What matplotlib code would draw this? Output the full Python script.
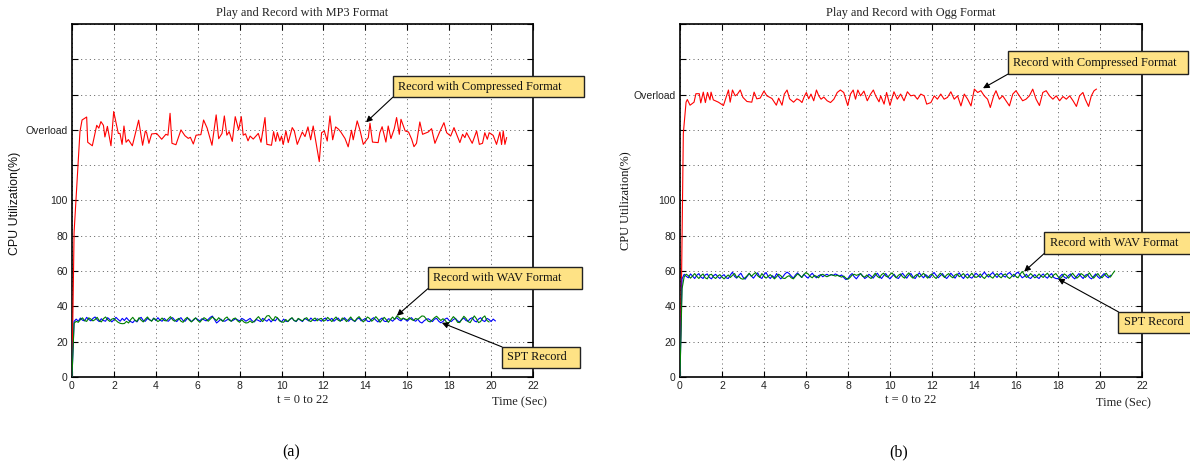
import matplotlib
matplotlib.use('Agg')
import matplotlib.pyplot as plt
import numpy as np
from matplotlib.patches import Rectangle

SERIF = 'Liberation Serif'
SANS = 'Liberation Sans'

# ---------------- data ----------------
dt = 0.1
x_ticks = list(range(0, 23, 2))
y_ticks = list(range(0, 201, 20))
ylabels_mp3 = ['0', '20', '40', '60', '80', '100', '', 'Overload', '', '', '']
ylabels_ogg = ['0', '20', '40', '60', '80', '100', '', '', 'Overload', '', '']

# (a) MP3 - record with compressed format (red)
red_mp3_t = [0, 0.1, 0.38, 0.48, 0.7, 0.75, 0.97, 1.18, 1.28, 1.38, 1.5, 1.57, 1.69, 1.86, 1.99,
             2.21, 2.29, 2.39, 2.48, 2.58, 2.69, 2.88, 3.18, 3.37, 3.5, 3.56, 3.67, 3.8, 4.04,
             4.28, 4.48, 4.58, 4.68, 4.77, 4.96, 5.2, 5.39, 5.55, 5.65, 5.79, 5.92, 6.15, 6.28,
             6.45, 6.68, 6.88, 7.0, 7.16, 7.27, 7.39, 7.5, 7.65, 7.79, 7.95, 8.08, 8.17, 8.28,
             8.4, 8.5, 8.65, 8.89, 9.02, 9.21, 9.3, 9.52, 9.62, 9.72, 9.8,
             9.92, 10.0, 10.08, 10.21, 10.32, 10.51, 10.61, 10.75, 10.99, 11.12, 11.26, 11.39,
             11.51, 11.67, 11.8, 11.91, 12.04, 12.18, 12.31, 12.44, 12.58, 12.72, 12.83, 13.03,
             13.18, 13.34, 13.42, 13.61, 13.74, 13.9, 14.14, 14.22, 14.34, 14.61, 14.69, 14.8,
             14.98, 15.09, 15.22, 15.38, 15.49, 15.62, 15.7, 15.9, 16.06, 16.21, 16.32, 16.44,
             16.6, 16.73, 17.0, 17.16, 17.32, 17.53, 17.75, 17.88, 18.07, 18.23, 18.51, 18.64,
             18.75, 18.83, 19.1, 19.31, 19.44, 19.59, 19.7, 19.82, 19.91, 20.1, 20.26, 20.42,
             20.5, 20.58, 20.66, 20.74]
red_mp3_v = [0, 82, 139, 145.6, 147.3, 133, 131, 142.6, 141, 144.7, 142.6, 136, 142, 131, 150.4,
             138, 138, 131.8, 142.2, 133, 134.5, 131, 145.5, 131.3, 139.4, 138.5, 132.4, 137.7, 138,
             134.7, 137.5, 137, 149.4, 132.4, 131.6, 140, 136.7, 135.2, 135.8, 132, 137, 137.3, 145.6,
             141, 131.3, 148.5, 135, 138, 147.9, 137, 139, 133.5, 147.5, 140, 147.5, 137, 137.8,
             133.8, 136.5, 134.8, 138, 133, 147, 131.8, 131.3, 139, 133.5, 138.5,
             133.7, 136.5, 131.7, 139.4, 132.8, 141.3, 139.4, 131.8, 138.8, 136.2, 141.7, 134.4,
             142.2, 130.9, 122.0, 138.4, 139.4, 133.7, 147.9, 134.4, 141.7, 140.4, 138.8, 135.1,
             130.4, 139.8, 134.4, 145.1, 140.0, 131.8, 135.6, 143.8, 133.1, 132.8, 138.4, 141.8,
             133.1, 142.2, 135.1, 140.7, 147.0, 137.5, 146.0, 139.4, 138.8, 134.7, 130.5, 132.4,
             144.5, 137.5, 138.8, 140.7, 132.4, 138.4, 144.1, 138.4, 136.5, 141.3, 132.8, 137.5,
             135.6, 138.4, 132.4, 139.4, 131.8, 132.4, 138.4, 134.7, 138.4, 136.9, 131.8, 138.8,
             131.7, 139.4, 131.8, 135.6]

# (a) MP3 - SPT record (blue), sampled every dt
blue_mp3 = [0, 31.5, 32.8, 31.6, 33.4, 32.2, 31.8, 33.8, 32.6, 31.8,
            33.2, 34.0, 32.4, 31.4, 33.0, 32.0, 31.6, 33.6, 32.6, 31.2,
            32.4, 33.8, 32.6, 31.6, 33.2, 32.0, 33.6, 32.2, 31.4, 30.8,
            32.2, 31.2, 33.0, 33.8, 32.0, 31.6, 33.2, 32.4, 31.8, 33.4,
            32.0, 33.6, 32.2, 31.6, 33.2, 32.0, 31.6, 33.0, 33.6, 32.2,
            31.4, 32.8, 33.6, 32.0, 31.6, 33.2, 32.8, 31.4, 32.2, 33.4,
            32.6, 31.8, 33.0, 32.4, 31.8, 32.6, 33.8, 34.5, 32.6, 30.6,
            31.6, 32.8, 31.8, 31.6, 32.4, 32.8, 31.6, 32.2, 33.0, 32.4,
            31.8, 33.2, 32.6, 31.6, 32.4, 33.2, 31.8, 31.2, 32.6, 32.0,
            31.4, 33.2, 32.4, 31.6, 32.8, 31.2, 32.6, 31.8, 33.4, 32.2,
            31.2, 32.8, 31.6, 31.4, 32.6, 33.4, 32.0, 31.4, 33.0, 32.2,
            31.4, 33.2, 32.6, 31.8, 33.4, 32.2, 31.8, 33.0, 32.4, 31.6,
            32.8, 33.4, 31.8, 32.4, 33.2, 31.6, 32.6, 33.4, 31.8, 32.2,
            33.6, 32.4, 31.6, 33.0, 32.2, 31.4, 32.8, 33.4, 31.8, 32.4,
            33.2, 31.6, 31.4, 32.8, 33.6, 32.2, 31.2, 32.6, 33.4, 31.6,
            31.4, 33.0, 32.6, 31.6, 32.8, 33.6, 32.4, 31.8, 33.2, 32.6,
            31.6, 32.8, 33.6, 32.2, 31.6, 32.8, 31.2, 30.6, 31.8, 32.6,
            33.0, 32.2, 31.4, 32.8, 33.2, 31.6, 30.7, 31.4, 32.8, 33.4,
            32.0, 31.4, 32.6, 33.2, 31.8, 31.2, 32.6, 33.4, 32.0, 31.6,
            33.0, 33.6, 31.8, 31.2, 32.8, 33.6, 32.0, 31.4, 33.2, 32.6,
            31.4, 32.8, 31.8]

# (a) MP3 - record with WAV format (green), sampled every dt
green_mp3 = [0, 30.5, 31.5, 31.0, 32.5, 33.5, 32.0, 31.5, 33.5, 32.8,
             31.8, 32.5, 33.8, 32.0, 31.2, 33.0, 34.0, 32.5, 31.5, 32.8,
             33.2, 32.0, 31.0, 30.4, 30.2, 30.3, 31.5, 30.6, 32.5, 33.8,
             32.2, 31.5, 33.6, 32.2, 31.2, 32.8, 34.0, 32.5, 31.6, 33.2,
             32.6, 31.4, 32.2, 33.4, 32.0, 31.8, 33.0, 34.2, 32.4, 31.6,
             32.5, 33.2, 31.6, 31.0, 32.8, 33.8, 32.2, 31.2, 32.6, 33.5,
             32.0, 31.0, 32.4, 33.6, 32.8, 31.6, 32.8, 34.0, 33.0, 32.0,
             33.6, 32.4, 31.5, 33.2, 34.0, 32.2, 31.6, 33.0, 33.4, 31.8,
             31.0, 32.4, 31.2, 30.6, 30.8, 31.8, 30.8, 31.6, 33.0, 34.2,
             32.6, 31.4, 33.0, 34.6, 34.8, 33.2, 32.0, 34.2, 33.6, 31.8,
             31.2, 31.0, 32.6, 31.4, 32.8, 33.6, 32.0, 31.6, 33.2, 32.4,
             31.8, 33.0, 33.6, 32.0, 31.4, 32.6, 33.4, 31.8, 32.8, 33.2,
             31.6, 32.2, 33.8, 32.6, 31.4, 32.8, 34.0, 32.2, 31.6, 33.4,
             32.8, 31.4, 32.6, 34.0, 32.4, 31.6, 33.2, 34.2, 32.6, 31.2,
             32.4, 34.0, 33.2, 31.6, 32.6, 34.2, 32.8, 31.0, 32.4, 33.8,
             32.4, 31.0, 32.6, 34.0, 32.6, 34.6, 33.8, 32.6, 33.4, 32.8,
             32.4, 33.6, 32.6, 32.0, 33.2, 32.6, 33.6, 34.6, 34.4, 33.0,
             31.6, 31.2, 32.4, 33.6, 34.4, 33.2, 32.0, 33.0, 32.2, 30.6,
             30.8, 32.6, 34.2, 33.0, 31.0, 30.8, 32.6, 34.4, 33.2, 31.4,
             30.8, 32.8, 34.6, 33.0, 30.8, 31.4, 33.6, 34.6, 32.0, 31.2]

# (b) Ogg - record with compressed format (red)
red_ogg_t = [0, 0.08, 0.16, 0.29, 0.35, 0.48, 0.67, 0.76, 0.92, 0.99, 1.11, 1.21, 1.31, 1.43, 1.48,
             1.59, 1.83, 2.07, 2.31, 2.39, 2.5, 2.63, 2.74, 2.87, 3.0, 3.19, 3.42, 3.53, 3.66,
             3.82, 4.0, 4.14, 4.38, 4.59, 4.7, 4.86, 4.97, 5.1, 5.22, 5.41, 5.57, 5.7, 5.81,
             5.92, 6.02, 6.13, 6.24, 6.37, 6.5, 6.61, 6.72, 6.85, 7.01, 7.17, 7.33, 7.49, 7.64,
             7.8, 7.99, 8.12, 8.25, 8.36, 8.47, 8.6, 8.76, 8.92, 9.08, 9.21, 9.32, 9.48,
             9.56, 9.72, 9.84, 10.0, 10.19, 10.35, 10.51, 10.67, 10.83, 10.99, 11.15, 11.31,
             11.47, 11.63, 11.75, 11.95, 12.11, 12.26, 12.42, 12.58, 12.74, 12.9, 13.06, 13.22,
             13.38, 13.54, 13.7, 13.86, 14.02, 14.18, 14.33, 14.49, 14.65, 14.78, 14.94, 15.05,
             15.21, 15.37, 15.53, 15.69, 15.85, 16.0, 16.16, 16.32, 16.48, 16.64, 16.8, 16.96,
             17.12, 17.28, 17.44, 17.6, 17.76, 17.92, 18.08, 18.24, 18.4, 18.56, 18.72, 18.88,
             19.03, 19.19, 19.3, 19.46, 19.59, 19.72, 19.83]
red_ogg_v = [0, 60, 138, 155.7, 157.2, 154.0, 155.7, 160.5, 160.5, 155.3, 161.4, 155.5, 161.2, 157.0, 161.4,
             157.0, 155.7, 153.8, 162.6, 155.7, 162.6, 159.3, 160.3, 162.6, 158.4, 156.1, 155.7, 161.4, 157.6,
             158.0, 162.0, 159.3, 157.8, 154.0, 158.0, 154.0, 160.3, 162.6, 157.6, 155.7, 157.6, 156.8, 155.5,
             158.9, 161.2, 157.6, 160.3, 156.5, 162.6, 159.3, 157.4, 158.6, 156.5, 155.5, 157.4, 161.2, 162.6,
             161.2, 153.8, 160.3, 162.6, 157.4, 162.6, 159.3, 162.0, 156.5, 160.3, 162.6, 159.3, 155.9,
             159.3, 154.6, 161.2, 153.9, 161.6, 157.4, 160.3, 156.5, 161.6, 159.3, 159.7, 157.4, 160.3,
             159.3, 154.6, 155.5, 159.3, 157.4, 160.3, 157.4, 158.4, 161.6, 157.4, 159.3, 153.6, 160.3,
             157.4, 153.6, 163.1, 161.2, 162.2, 159.3, 157.4, 152.7, 159.3, 162.2, 157.4, 159.3, 156.5,
             153.6, 160.3, 162.2, 159.3, 156.5, 157.4, 159.3, 163.1, 157.4, 153.8, 161.2, 162.2, 159.3,
             157.4, 159.3, 156.5, 158.9, 157.4, 159.3, 156.5, 153.3, 159.3, 161.2, 157.4, 153.3, 159.3,
             162.2, 163.1]

# (b) Ogg - SPT record (blue), sampled every dt
blue_ogg = [0, 55.6, 58.2, 57.0, 56.2, 58.4, 57.2, 55.8, 57.6, 58.6,
            56.6, 55.8, 57.8, 58.4, 56.4, 55.6, 57.4, 58.2, 56.8, 55.8,
            57.2, 58.0, 56.2, 55.8, 57.8, 59.4, 57.0, 56.0, 57.6, 58.8,
            56.6, 55.4, 57.0, 58.6, 57.2, 56.0, 57.6, 59.0, 56.6, 55.8,
            58.0, 59.2, 57.0, 55.8, 57.4, 56.2, 58.6, 57.0, 55.6, 56.8,
            58.4, 59.4, 58.6, 57.2, 56.0, 57.8, 59.0, 57.6, 56.4, 58.2,
            57.0, 56.0, 57.6, 58.8, 57.2, 56.2, 57.4, 58.0, 56.8, 57.6,
            58.2, 57.4, 58.0, 57.6, 58.4, 57.8, 57.2, 57.8, 56.4, 55.2,
            55.8, 57.6, 58.6, 56.8, 55.6, 57.2, 58.6, 57.4, 55.8, 56.6,
            58.2, 57.2, 56.0, 57.6, 58.8, 57.0, 55.8, 57.4, 58.6, 56.8,
            55.6, 57.0, 58.2, 56.4, 55.8, 57.4, 58.8, 57.2, 56.0, 57.8,
            58.6, 56.6, 55.8, 57.6, 59.0, 57.4, 56.2, 58.0, 57.0, 56.2,
            57.8, 59.2, 57.6, 56.2, 57.4, 58.6, 56.8, 55.8, 57.2, 58.8,
            57.4, 56.0, 57.8, 59.0, 57.0, 55.8, 57.6, 58.4, 56.6, 56.0,
            57.4, 58.8, 57.6, 56.4, 58.0, 59.4, 57.8, 56.6, 58.2, 59.2,
            57.6, 56.4, 58.0, 58.8, 57.2, 56.6, 58.4, 59.2, 57.8, 56.8,
            58.6, 59.4, 57.8, 56.2, 57.0, 58.2, 56.4, 55.8, 57.2, 58.0,
            56.6, 55.8, 57.4, 58.4, 56.8, 56.0, 57.6, 58.6, 56.4, 55.8,
            55.7, 57.0, 58.2, 56.6, 55.8, 57.4, 58.4, 56.6, 55.6, 57.2,
            58.6, 57.0, 55.8, 57.6, 58.2, 56.4, 55.6, 57.0, 58.4, 56.8,
            55.8, 57.4, 58.6, 57.0, 56.2, 57.6]

# (b) Ogg - record with WAV format (green), sampled every dt
green_ogg = [0, 50.0, 56.8, 58.2, 57.4, 56.0, 57.2, 58.6, 57.0, 55.8,
             57.4, 58.4, 56.2, 55.6, 57.8, 58.2, 56.6, 55.8, 57.2, 58.0,
             56.6, 55.6, 56.8, 57.8, 56.4, 57.6, 58.6, 56.4, 57.0, 55.8,
             55.4, 56.2, 57.4, 58.8, 57.0, 58.2, 59.2, 57.4, 56.4, 58.6,
             57.2, 56.0, 57.0, 58.0, 56.8, 55.6, 56.8, 58.2, 57.4, 56.0,
             55.8, 56.8, 57.4, 56.2, 55.6, 57.0, 58.4, 57.6, 56.4, 58.0,
             59.2, 58.4, 57.0, 56.2, 57.6, 57.0, 56.2, 57.8, 58.2, 57.4,
             56.8, 57.4, 58.0, 57.6, 57.2, 57.6, 57.0, 56.6, 57.2, 56.0,
             55.4, 56.4, 57.8, 58.2, 57.6, 58.0, 58.6, 57.0, 56.6, 57.8,
             56.6, 55.8, 57.2, 58.8, 57.0, 56.2, 58.0, 58.8, 57.2, 56.6,
             58.0, 59.0, 57.4, 56.2, 57.6, 58.4, 56.8, 56.0, 57.8, 59.0,
             57.0, 56.0, 57.4, 58.2, 56.6, 57.6, 58.8, 57.2, 56.0, 57.6,
             58.4, 56.8, 55.8, 57.4, 58.8, 57.6, 56.4, 57.8, 58.6, 57.0,
             56.2, 57.8, 58.4, 56.8, 57.6, 58.6, 57.0, 56.0, 57.4, 58.8,
             57.2, 56.4, 57.0, 58.4, 56.8, 55.8, 57.2, 58.2, 56.8, 56.0,
             57.6, 58.6, 57.0, 56.2, 57.8, 58.4, 56.6, 55.8, 57.0, 58.2,
             57.0, 56.2, 58.2, 59.8, 58.0, 56.4, 57.2, 58.6, 57.4, 56.2,
             57.0, 58.4, 57.2, 56.4, 57.8, 58.8, 57.0, 56.2, 57.8, 58.6,
             57.0, 55.8, 56.8, 58.4, 57.6, 56.0, 57.4, 58.8, 57.2, 56.0,
             57.0, 58.6, 57.8, 56.4, 57.6, 59.0, 57.2, 56.0, 57.4, 58.6,
             57.0, 56.2, 57.6, 58.8, 57.2, 56.6, 58.4, 60.0]

titles = ['Play and Record with MP3 Format', 'Play and Record with Ogg Format']
callout_labels = ['Record with Compressed Format', 'Record with WAV Format', 'SPT Record']
# ---------------------------------------

BOX_FC = '#FEE285'

fig = plt.figure(figsize=(11.9, 4.66), dpi=100)
axL = fig.add_axes([0.0605, 0.191, 0.3874, 0.7575])
axR = fig.add_axes([0.5714, 0.191, 0.3882, 0.7575])


def style(ax, ylabels):
    ax.set_xlim(0, 22)
    ax.set_ylim(0, 200)
    ax.set_xticks(x_ticks)
    ax.set_xticklabels([str(v) for v in x_ticks])
    ax.set_yticks(y_ticks)
    ax.set_yticklabels(ylabels)
    ax.tick_params(direction='in', top=True, right=True, length=4, width=0.8,
                   labelsize=7.5, pad=3, colors='#000000', labelcolor='#222222')
    for lab in ax.get_xticklabels() + ax.get_yticklabels():
        lab.set_family(SANS)
    ax.grid(True, linestyle=(0, (1.2, 4)), color='#444444', linewidth=0.6)
    ax.set_axisbelow(True)
    for sp in ax.spines.values():
        sp.set_linewidth(1.2)
        sp.set_color('black')


def callout(ax, text, target, box, corner):
    x0, x1, y0, y1 = box
    padx = 5.5 / 20.95
    rect = Rectangle((x0, y0), x1 - x0, y1 - y0, facecolor=BOX_FC, edgecolor='#222222',
                     linewidth=1.0, clip_on=False, zorder=6)
    ax.add_patch(rect)
    ax.text(x0 + padx, (y0 + y1) / 2, text, fontsize=8.8, family=SERIF, ha='left',
            va='center', zorder=7, clip_on=False, color='#111111')
    cx = x0
    cy = y0 if corner == 'bl' else y1
    ax.annotate('', xy=target, xytext=(cx, cy), annotation_clip=False,
                arrowprops=dict(arrowstyle='-|>', color='black', lw=0.8,
                                shrinkA=0, shrinkB=0, mutation_scale=9), zorder=8)


# ---- (a) MP3 ----
style(axL, ylabels_mp3)
axL.plot(red_mp3_t, red_mp3_v, color='#FF0000', lw=0.8, zorder=3)
axL.plot(np.arange(len(blue_mp3)) * dt, blue_mp3, color='#0000FF', lw=0.8, zorder=3)
axL.plot(np.arange(len(green_mp3)) * dt, green_mp3, color='#008000', lw=0.8, zorder=3)
axL.text(0.5, 1.032, titles[0], transform=axL.transAxes, ha='center', va='center',
         fontsize=8.8, family=SERIF, color='#222222')
axL.text(-0.124, 0.491, 'CPU Utilization(%)', transform=axL.transAxes, rotation=90,
         ha='center', va='center', fontsize=8.9, family=SANS, color='#111111')
axL.text(0.5, -0.065, 't = 0 to 22', transform=axL.transAxes, ha='center', va='center',
         fontsize=8.9, family=SERIF, color='#222222')
axL.text(0.971, -0.072, 'Time (Sec)', transform=axL.transAxes, ha='center', va='center',
         fontsize=8.9, family=SERIF, color='#222222')
callout(axL, callout_labels[0], (14.03, 144.3), (15.31, 24.43, 158.5, 170.45), 'bl')
callout(axL, callout_labels[1], (15.5, 34.7), (16.98, 24.33, 50.0, 62.5), 'bl')
callout(axL, callout_labels[2], (17.65, 30.7), (20.52, 24.24, 5.11, 17.05), 'tl')

# ---- (b) Ogg ----
style(axR, ylabels_ogg)
axR.plot(red_ogg_t, red_ogg_v, color='#FF0000', lw=0.8, zorder=3)
axR.plot(np.arange(len(blue_ogg)) * dt, blue_ogg, color='#0000FF', lw=0.8, zorder=3)
axR.plot(np.arange(len(green_ogg)) * dt, green_ogg, color='#008000', lw=0.8, zorder=3)
axR.text(0.5, 1.032, titles[1], transform=axR.transAxes, ha='center', va='center',
         fontsize=8.8, family=SERIF, color='#222222')
axR.text(-0.119, 0.4986, 'CPU Utilization(%)', transform=axR.transAxes, rotation=90,
         ha='center', va='center', fontsize=8.9, family=SERIF, color='#111111')
axR.text(0.5, -0.065, 't = 0 to 22', transform=axR.transAxes, ha='center', va='center',
         fontsize=8.9, family=SERIF, color='#222222')
axR.text(0.96, -0.074, 'Time (Sec)', transform=axR.transAxes, ha='center', va='center',
         fontsize=8.9, family=SERIF, color='#222222')
callout(axR, callout_labels[0], (14.43, 163.6), (15.62, 24.18, 171.6, 184.7), 'bl')
callout(axR, callout_labels[1], (16.39, 59.7), (17.34, 24.32, 69.9, 82.4), 'bl')
callout(axR, callout_labels[2], (18.0, 55.7), (20.88, 24.32, 25.0, 36.9), 'tl')

fig.text(0.2445, 0.030, '(a)', ha='center', va='center', fontsize=11.5, family=SERIF)
fig.text(0.7555, 0.030, '(b)', ha='center', va='center', fontsize=11.5, family=SERIF)

fig.savefig('out.png', dpi=100)
